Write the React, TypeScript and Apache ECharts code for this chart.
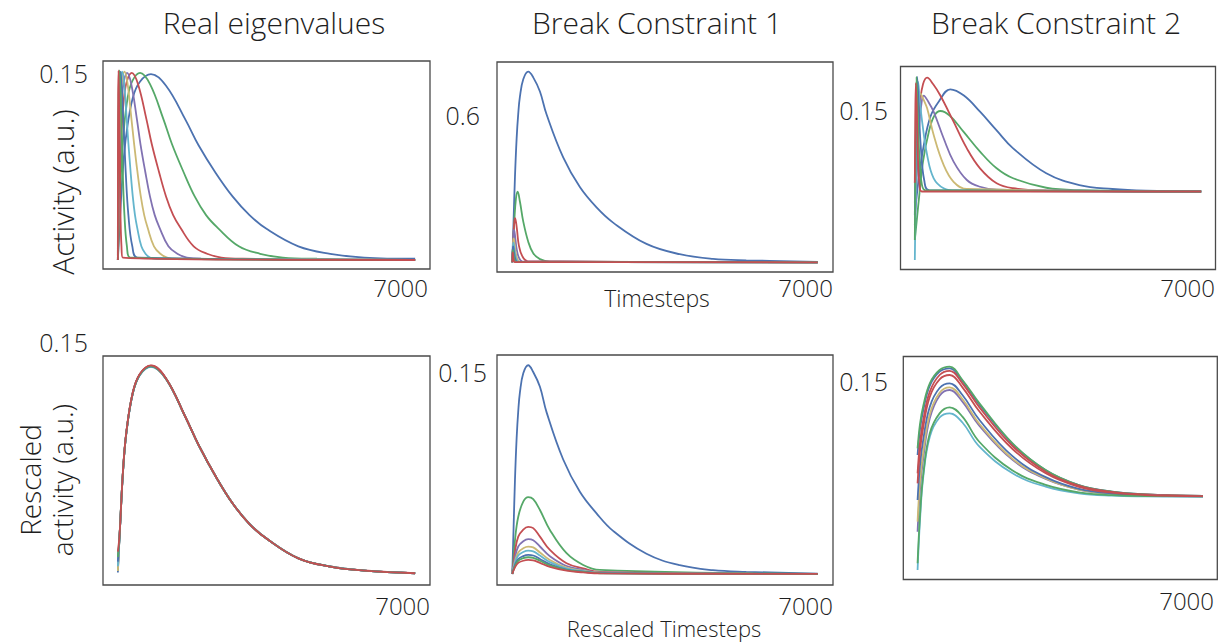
import React, { useEffect, useRef } from "react";
import * as echarts from "echarts";

// ---------- colours (seaborn "deep") ----------
const COLORS = ["#4C72B0", "#55A868", "#C44E52", "#8172B2", "#CCB974", "#64B5CD", "#4C72B0", "#55A868", "#C44E52"];

// ---------- Panel 1: Real eigenvalues (timesteps, activity) ----------
const real1 = [[0,0],[40,.027],[120,.073],[200,.101],[350,.13],[520,.143],[780,.149],[1130,.14],[1600,.112],[1900,.092],[2300,.07],[2700,.051],[3100,.036],[3500,.025],[4250,.011],[5000,.005],[5800,.002],[7000,.001]];
const real2 = [[0,0],[27,.027],[80,.074],[134,.102],[235,.131],[348,.144],[523,.15],[757,.141],[1072,.113],[1273,.093],[1541,.071],[1809,.051],[2077,.036],[2345,.026],[2848,.011],[3350,.005],[3886,.002],[4690,.001],[7000,0]];
const real3 = [[0,0],[17,.027],[50,.074],[84,.102],[147,.131],[218,.144],[328,.15],[475,.141],[672,.113],[798,.093],[966,.071],[1134,.051],[1302,.036],[1470,.026],[1785,.011],[2100,.005],[2436,.002],[2940,.001],[7000,0]];
const real4 = [[0,0],[11,.027],[34,.074],[56,.102],[98,.131],[146,.144],[218,.15],[316,.141],[448,.113],[532,.093],[644,.071],[756,.051],[868,.036],[980,.026],[1190,.011],[1400,.005],[1624,.002],[1960,.001],[7000,0]];
const real5 = [[0,0],[8,.027],[24,.074],[40,.103],[70,.131],[104,.145],[156,.151],[226,.142],[320,.113],[380,.094],[460,.071],[540,.051],[620,.036],[700,.026],[850,.011],[1000,.005],[1160,.002],[1400,.001],[7000,0]];
const real6 = [[0,0],[5,.027],[16,.074],[26,.103],[46,.131],[68,.145],[101,.151],[147,.142],[208,.113],[247,.094],[299,.071],[351,.051],[403,.036],[455,.026],[553,.011],[650,.005],[754,.002],[910,.001],[7000,0]];
const real7 = [[0,0],[10,.074],[28,.131],[62,.151],[128,.113],[184,.071],[248,.036],[340,.011],[464,.002],[7000,0]];
const real8 = [[0,0],[6,.075],[18,.132],[39,.152],[80,.114],[115,.071],[155,.036],[213,.011],[290,.002],[7000,0]];
const real9 = [[0,0],[2,.075],[7,.132],[16,.152],[32,.114],[46,.071],[62,.036],[85,.011],[116,.002],[7000,0]];

// ---------- Panel 4: Real eigenvalues, rescaled ----------
const resT = [0,40,120,200,350,520,780,1130,1600,1900,2300,2700,3100,3500,4250,5000,5800,7000];
const res1 = [.001,.0242,.0659,.0915,.117,.1291,.1345,.1264,.1009,.0834,.0632,.0457,.0323,.0229,.0101,.0048,.0022,.0005];
const res2 = [.003,.0245,.066,.0914,.1168,.129,.1343,.1265,.1011,.0836,.0634,.0458,.0324,.023,.0102,.0049,.0022,.0006];
const res3 = [.006,.0248,.0662,.0917,.1172,.1293,.1347,.1266,.101,.0835,.0633,.0458,.0324,.023,.0102,.0049,.0023,.0006];
const res4 = [.004,.0244,.0658,.0913,.1167,.1289,.1342,.1262,.1008,.0834,.0632,.0457,.0323,.0229,.0101,.0048,.0022,.0005];
const res5 = [.002,.0243,.0657,.0912,.1166,.1288,.1341,.1262,.1008,.0834,.0632,.0457,.0323,.0229,.0101,.0048,.0022,.0005];
const res6 = [.005,.0241,.0655,.091,.1164,.1286,.1339,.1262,.1009,.0835,.0633,.0458,.0324,.023,.0102,.0049,.0022,.0006];
const res7 = [.008,.0246,.0659,.0913,.1167,.1289,.1342,.1263,.1009,.0834,.0632,.0457,.0323,.0229,.0101,.0048,.0022,.0005];
const res8 = [.011,.025,.0661,.0915,.1169,.1291,.1344,.1264,.1009,.0834,.0632,.0457,.0323,.0229,.0101,.0048,.0022,.0005];
const res9 = [.0144,.0255,.0664,.0918,.1172,.1294,.1348,.1266,.101,.0835,.0633,.0457,.0323,.0229,.0101,.0048,.0022,.0005];

// ---------- Panel 2: Break Constraint 1 ----------
const bc1a = [[0,0],[30,.171],[62,.35],[100,.506],[137,.607],[176,.677],[252,.747],[366,.778],[480,.755],[634,.697],[787,.603],[1167,.428],[1549,.307],[1931,.224],[2311,.162],[3075,.075],[3836,.033],[4598,.014],[5362,.008],[7000,.002]];
const bc1b = [[0,0],[25,.09],[46,.166],[84,.26],[123,.288],[176,.247],[252,.166],[366,.084],[480,.037],[634,.013],[863,.003],[7000,0]];
const bc1c = [[0,0],[15,.06],[30,.12],[45,.16],[62,.18],[85,.165],[110,.13],[150,.07],[230,.025],[350,.005],[7000,0]];
const bc1d = [[0,0],[10,.04],[20,.085],[30,.12],[40,.132],[55,.12],[75,.09],[100,.055],[150,.02],[230,.004],[7000,0]];
const bc1e = [[0,0],[8,.03],[16,.062],[24,.09],[30,.098],[42,.088],[58,.066],[78,.04],[115,.015],[175,.003],[7000,0]];
const bc1f = [[0,0],[6,.025],[13,.05],[19,.073],[25,.08],[35,.072],[48,.054],[65,.033],[95,.012],[145,.002],[7000,0]];
const bc1g = [[0,0],[5,.02],[10,.042],[15,.06],[20,.065],[28,.058],[38,.044],[52,.027],[76,.01],[116,.002],[7000,0]];
const bc1h = [[0,0],[4,.015],[8,.032],[11,.045],[15,.05],[21,.045],[29,.034],[39,.021],[57,.008],[87,.001],[7000,0]];
const bc1i = [[0,0],[3,.012],[5,.025],[8,.036],[10,.04],[14,.036],[19,.027],[26,.016],[38,.006],[58,.001],[7000,0]];

// ---------- Panel 5: Break Constraint 1, rescaled ----------
const rbc1Blue = [[0,0],[30,.034],[62,.07],[100,.101],[137,.121],[176,.135],[252,.149],[366,.155],[480,.15],[634,.139],[787,.12],[1167,.085],[1549,.061],[1931,.045],[2311,.032],[3075,.015],[3836,.0065],[4598,.0028],[5362,.0016],[7000,.0003]];
const rbc1T = [0,62,137,252,366,480,634,862,1244,1625,2006,7000];
const rbc1b = [0,.025,.0425,.0537,.057,.0555,.0475,.0327,.0154,.0067,.003,0];
const rbc1c = [0,.0166,.0277,.033,.035,.034,.0277,.0178,.0079,.0042,.0015,0];
const rbc1d = [0,.0121,.0204,.0243,.0258,.025,.0204,.0132,.0059,.0031,.0011,0];
const rbc1e = [0,.0095,.016,.0191,.0203,.0197,.016,.0104,.0047,.0024,.0009,0];
const rbc1f = [0,.0081,.0137,.0163,.0173,.0168,.0137,.0088,.004,.0021,.0007,0];
const rbc1g = [0,.0066,.0111,.0133,.0141,.0137,.0111,.0072,.0032,.0017,.0006,0];
const rbc1h = [0,.0058,.0098,.0117,.0124,.012,.0098,.0063,.0029,.0015,.0005,0];
const rbc1i = [0,.0049,.0082,.0098,.0104,.0101,.0082,.0053,.0024,.0012,.0004,0];

// ---------- Panel 3: Break Constraint 2 ----------
const bc2a = [[0,.067],[90,.095],[218,.123],[381,.146],[583,.158],[866,.168],[1200,.163],[1594,.15],[2000,.135],[2403,.1206],[3213,.1006],[4022,.0912],[4830,.088],[5640,.0866],[7000,.086]];
const bc2b = [[0,.047],[100,.08],[200,.11],[350,.135],[480,.147],[624,.1506],[850,.147],[1189,.134],[1594,.118],[2000,.1046],[2403,.0966],[3213,.089],[4022,.087],[7000,.086]];
const bc2c = [[0,.093],[60,.13],[130,.158],[200,.172],[301,.1773],[450,.172],[624,.163],[947,.142],[1272,.1206],[1594,.1046],[2000,.0926],[2403,.0886],[3213,.0866],[7000,.086]];
const bc2d = [[0,.059],[50,.1],[100,.135],[160,.156],[218,.163],[330,.158],[461,.15],[704,.1287],[947,.11],[1272,.0952],[1594,.0898],[2000,.0875],[7000,.086]];
const bc2e = [[0,.077],[30,.11],[70,.145],[138,.1648],[210,.16],[301,.1527],[461,.1313],[704,.1073],[947,.0938],[1272,.088],[7000,.086]];
const bc2f = [[0,.031],[20,.08],[50,.14],[82,.174],[120,.16],[179,.142],[301,.1153],[461,.0966],[704,.0886],[1000,.0866],[7000,.086]];
const bc2g = [[0,.067],[25,.13],[58,.178],[100,.15],[150,.12],[230,.095],[350,.087],[7000,.086]];
const bc2h = [[0,.047],[15,.11],[41,.178],[70,.15],[110,.115],[170,.092],[260,.087],[7000,.086]];
const bc2i = [[0,.093],[10,.14],[25,.173],[50,.15],[80,.11],[120,.09],[170,.086],[7000,.086]];

// ---------- Panel 6: Break Constraint 2, rescaled ----------
const rbc2T = [0,60,140,300,540,787,1100,1518,2329,3142,3954,4765,5578,7000];
const rbc2a = [.105,.1206,.132,.1466,.155,.157,.1495,.1352,.1116,.0958,.0869,.083,.0814,.0804];
const rbc2b = [.109,.1237,.1345,.148,.156,.158,.15,.136,.112,.096,.087,.083,.0814,.0804];
const rbc2c = [.094,.1125,.126,.143,.153,.1555,.148,.1336,.1104,.095,.0866,.0828,.0813,.0804];
const rbc2d = [.059,.0845,.1032,.127,.1406,.144,.137,.1225,.1021,.0906,.0843,.0817,.0807,.0802];
const rbc2e = [.065,.0892,.1069,.1295,.1424,.1456,.1386,.1236,.1027,.091,.0843,.0818,.0808,.0802];
const rbc2f = [.036,.066,.092,.116,.1275,.13,.1245,.11,.094,.086,.082,.0806,.0802,.08];
const rbc2g = [.078,.099,.1144,.134,.1452,.148,.141,.126,.1043,.0917,.0847,.0819,.0808,.0802];
const rbc2h = [.04,.069,.0935,.118,.13,.1336,.128,.1128,.0957,.0871,.0826,.0809,.0804,.0802];
const rbc2i = [.088,.1075,.1218,.14,.1504,.153,.1456,.1311,.1086,.094,.0859,.0824,.081,.0803];

// ---------- texts ----------
const TITLES = ["Real eigenvalues", "Break Constraint 1", "Break Constraint 2"];
const X_MAX_LABEL = "7000";

const zipT = (t: number[], v: number[]) => t.map((x, i) => [x, v[i]]);

// panel layout (px) and y ranges
const PANELS = [
  { left: 103, top: 61, width: 327, height: 208, ymin: -0.0072, ymax: 0.1596, curves: [real1, real2, real3, real4, real5, real6, real7, real8, real9] },
  { left: 497, top: 62, width: 336, height: 210, ymin: -0.0396, ymax: 0.8176, curves: [bc1a, bc1b, bc1c, bc1d, bc1e, bc1f, bc1g, bc1h, bc1i] },
  { left: 900.5, top: 66.5, width: 315, height: 203, ymin: 0.0234, ymax: 0.1863, curves: [bc2a, bc2b, bc2c, bc2d, bc2e, bc2f, bc2g, bc2h, bc2i] },
  { left: 103, top: 356, width: 327, height: 229, ymin: -0.0071, ymax: 0.1409, curves: [res1, res2, res3, res4, res5, res6, res7, res8, res9].map((v) => zipT(resT, v)) },
  { left: 497, top: 355, width: 336, height: 230, ymin: -0.0082, ymax: 0.1626, curves: [rbc1Blue, ...[rbc1b, rbc1c, rbc1d, rbc1e, rbc1f, rbc1g, rbc1h, rbc1i].map((v) => zipT(rbc1T, v))] },
  { left: 903.3, top: 356.5, width: 314, height: 223, ymin: 0.0303, ymax: 0.1641, curves: [rbc2a, rbc2b, rbc2c, rbc2d, rbc2e, rbc2f, rbc2g, rbc2h, rbc2i].map((v) => zipT(rbc2T, v)) },
];

const FONT = '"Open Sans", "DejaVu Sans", sans-serif';
const TXT = "#1e1e1e";

function txt(text: string, x: number, y: number, size: number, align: string, rotation = 0) {
  return {
    type: "text",
    x,
    y,
    rotation,
    silent: true,
    style: {
      text,
      fill: TXT,
      font: `300 ${size}px ${FONT}`,
      textAlign: align,
      textVerticalAlign: "middle",
      verticalAlign: "middle",
    },
  };
}

export default function App() {
  const ref = useRef<HTMLDivElement>(null);
  useEffect(() => {
    if (!ref.current) return;
    const chart = echarts.init(ref.current, null, { renderer: "svg" });
    const grid = PANELS.map((p) => ({
      left: p.left,
      top: p.top,
      width: p.width,
      height: p.height,
      show: true,
      borderColor: "#4a4a4a",
      borderWidth: 1.3,
      backgroundColor: "#ffffff",
      containLabel: false,
    }));
    const xAxis = PANELS.map((_, i) => ({
      type: "value",
      gridIndex: i,
      min: -350,
      max: 7350,
      axisLine: { show: false },
      axisTick: { show: false },
      axisLabel: { show: false },
      splitLine: { show: false },
    }));
    const yAxis = PANELS.map((p, i) => ({
      type: "value",
      gridIndex: i,
      min: p.ymin,
      max: p.ymax,
      axisLine: { show: false },
      axisTick: { show: false },
      axisLabel: { show: false },
      splitLine: { show: false },
    }));
    const series: any[] = [];
    PANELS.forEach((p, gi) => {
      p.curves.forEach((data, ci) => {
        series.push({
          type: "line",
          xAxisIndex: gi,
          yAxisIndex: gi,
          data,
          showSymbol: false,
          symbol: "none",
          smooth: 0.4,
          lineStyle: { width: 1.8, color: COLORS[ci] },
          itemStyle: { color: COLORS[ci] },
          silent: true,
        });
      });
    });
    const graphic = [
      txt(TITLES[0], 274, 22, 30, "center"),
      txt(TITLES[1], 657, 22, 30, "center"),
      txt(TITLES[2], 1056, 22, 30, "center"),
      txt("Activity (a.u.)", 62, 192, 30, "center", Math.PI / 2),
      txt("Rescaled", 30, 480, 28, "center", Math.PI / 2),
      txt("activity (a.u.)", 62, 480, 28, "center", Math.PI / 2),
      txt("0.15", 88, 73, 25, "right"),
      txt(X_MAX_LABEL, 428, 287, 24, "right"),
      txt("0.6", 480, 115, 25, "right"),
      txt("Timesteps", 657, 298, 23, "center"),
      txt(X_MAX_LABEL, 833, 287, 24, "right"),
      txt("0.15", 888, 110, 25, "right"),
      txt(X_MAX_LABEL, 1215, 287, 24, "right"),
      txt("0.15", 88, 342, 25, "right"),
      txt(X_MAX_LABEL, 430, 605, 24, "right"),
      txt("0.15", 487, 372, 25, "right"),
      txt(X_MAX_LABEL, 833, 605, 24, "right"),
      txt("Rescaled Timesteps", 664, 628, 22, "center"),
      txt("0.15", 888, 381, 25, "right"),
      txt(X_MAX_LABEL, 1214, 600, 24, "right"),
    ];
    chart.setOption({
      animation: false,
      backgroundColor: "#ffffff",
      grid,
      xAxis,
      yAxis,
      series,
      graphic,
    });
    return () => chart.dispose();
  }, []);
  return <div ref={ref} style={{ position: "absolute", left: 0, top: 0, width: 1220, height: 643 }} />;
}
